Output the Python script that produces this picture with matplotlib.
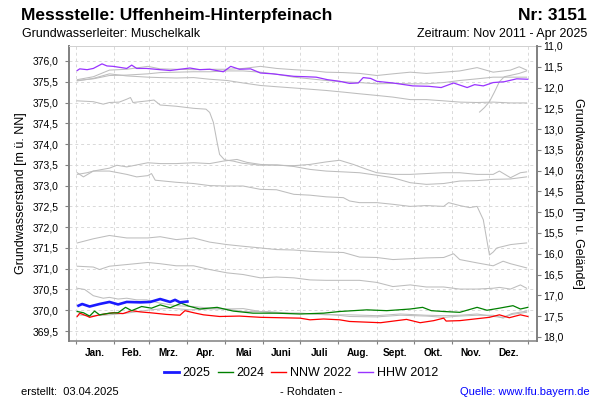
import matplotlib
matplotlib.use('Agg')
import matplotlib.pyplot as plt
from matplotlib.lines import Line2D
import numpy as np

plt.rcParams['font.family'] = ['Liberation Sans', 'DejaVu Sans']

# ---------------- data ----------------
GROUND = 387.36  # Geländehöhe [m ü. NN]
MONTH_STARTS = [0, 31, 59, 90, 120, 151, 181, 212, 243, 273, 304, 334, 365]
MONTHS = ["Jan.", "Feb.", "Mrz.", "Apr.", "Mai", "Juni", "Juli", "Aug.",
          "Sept.", "Okt.", "Nov.", "Dez."]

d2025 = [2, 5, 11, 19, 27, 34, 41, 52, 60, 68, 76, 80, 84, 90]
v2025 = [370.11, 370.15, 370.09, 370.15, 370.20, 370.14, 370.20, 370.19, 370.20,
         370.27, 370.20, 370.25, 370.19, 370.21]

d2024 = [1, 6, 11, 15, 19, 27, 34, 40, 45, 53, 61, 68, 76, 85, 91, 100, 114, 127,
         143, 162, 181, 200, 213, 235, 251, 270, 280, 287, 297, 310, 324, 332, 342,
         353, 359, 365]
v2024 = [369.97, 369.94, 369.86, 369.98, 369.89, 369.93, 369.94, 370.07, 369.99,
         370.09, 370.05, 370.13, 370.06, 370.17, 370.10, 370.03, 370.07, 369.98,
         369.93, 369.93, 369.91, 369.93, 369.97, 370.01, 369.99, 370.03, 370.07,
         369.99, 369.97, 369.95, 370.07, 370.00, 370.05, 370.11, 370.03, 370.07]

d2022 = [1, 3, 9, 11, 19, 30, 38, 45, 52, 60, 73, 84, 88, 95, 103, 116, 132, 149,
         165, 181, 189, 200, 213, 221, 246, 267, 278, 289, 297, 299, 310, 334, 342,
         350, 359, 365]
v2022 = [369.85, 369.93, 369.86, 369.83, 369.89, 369.94, 369.92, 369.99, 369.96,
         369.94, 369.90, 369.88, 369.99, 369.94, 369.89, 369.85, 369.86, 369.83,
         369.82, 369.81, 369.77, 369.79, 369.77, 369.73, 369.70, 369.78, 369.70,
         369.75, 369.81, 369.74, 369.75, 369.83, 369.89, 369.82, 369.89, 369.85]

d2012 = [1, 3, 9, 14, 21, 25, 30, 41, 45, 49, 57, 68, 76, 84, 92, 100, 108, 119,
         125, 132, 141, 149, 159, 176, 186, 194, 203, 213, 221, 228, 232, 238, 243,
         256, 272, 285, 295, 305, 310, 316, 322, 329, 337, 346, 356, 365]
v2012 = [375.77, 375.81, 375.79, 375.82, 375.93, 375.88, 375.87, 375.82, 375.90,
         375.82, 375.82, 375.79, 375.77, 375.80, 375.83, 375.79, 375.80, 375.74,
         375.87, 375.80, 375.81, 375.71, 375.69, 375.63, 375.62, 375.61, 375.55,
         375.51, 375.46, 375.47, 375.60, 375.58, 375.51, 375.47, 375.40, 375.39,
         375.36, 375.47, 375.42, 375.36, 375.43, 375.40, 375.48, 375.50, 375.57,
         375.56]

# other years (grey)
grey_days = [
    [326, 330, 334, 338, 342, 346, 352, 358, 364],
    [1, 14, 27, 41, 58, 68, 81, 95, 108, 122, 135, 149, 162, 176, 189, 202, 216,
     229, 243, 256, 270, 283, 297, 310, 324, 337, 351, 358, 364],
    [1, 14, 27, 41, 58, 68, 81, 95, 108, 122, 135, 149, 162, 176, 189, 202, 216,
     229, 243, 256, 270, 283, 297, 310, 324, 337, 351, 364],
    [1, 14, 27, 41, 58, 68, 81, 95, 108, 122, 135, 149, 162, 176, 189, 202, 216,
     229, 243, 256, 270, 283, 297, 310, 324, 337, 351, 364],
    [1, 14, 22, 27, 35, 41, 44, 46, 58, 63, 68, 81, 95, 105, 108, 111, 114, 116,
     120, 127, 134, 149, 162, 176, 189, 202, 216, 229, 243, 256, 270, 283, 297,
     310, 324, 337, 351, 364],
    [1, 6, 14, 27, 33, 41, 58, 68, 81, 95, 108, 119, 130, 138, 149, 162, 176, 189,
     202, 213, 224, 235, 243, 256, 270, 283, 297, 310, 324, 337, 342, 351, 359, 364],
    [1, 9, 14, 27, 41, 49, 58, 61, 64, 81, 95, 108, 122, 135, 149, 162, 176, 189,
     202, 216, 221, 229, 243, 256, 270, 283, 297, 301, 310, 318, 324, 329, 334,
     337, 340, 351, 357, 364],
    [1, 14, 27, 41, 58, 68, 81, 95, 108, 122, 135, 149, 162, 176, 189, 202, 216,
     229, 243, 256, 270, 283, 297, 305, 310, 324, 337, 345, 351, 364],
    [1, 14, 19, 27, 41, 58, 68, 81, 95, 108, 122, 135, 149, 162, 176, 189, 202,
     216, 229, 243, 256, 270, 283, 297, 310, 324, 337, 342, 351, 359, 364],
    [1, 7, 14, 22, 27, 34, 41, 49, 57, 68, 81, 95, 108, 122, 135, 149, 162, 181,
     202, 221, 243, 262, 283, 297, 310, 324, 337, 345, 352, 364],
    [2, 11, 27, 41, 60, 76, 92, 108, 122, 135, 154, 173, 190, 205, 221, 243, 262,
     283, 297, 310, 324, 337, 345, 352, 364],
]
grey_vals = [
    [374.77, 374.88, 375.02, 375.25, 375.50, 375.62, 375.66, 375.70, 375.76],
    [375.55, 375.62, 375.78, 375.80, 375.87, 375.81, 375.80, 375.79, 375.80,
     375.80, 375.82, 375.87, 375.82, 375.79, 375.77, 375.73, 375.72, 375.70,
     375.65, 375.69, 375.73, 375.70, 375.73, 375.76, 375.84, 375.73, 375.78,
     375.86, 375.78],
    [375.53, 375.57, 375.65, 375.66, 375.69, 375.72, 375.73, 375.74, 375.74,
     375.76, 375.76, 375.73, 375.68, 375.61, 375.57, 375.53, 375.50, 375.48,
     375.45, 375.46, 375.45, 375.45, 375.48, 375.53, 375.57, 375.61, 375.61,
     375.61],
    [375.52, 375.58, 375.69, 375.64, 375.61, 375.60, 375.59, 375.60, 375.56,
     375.53, 375.47, 375.41, 375.38, 375.35, 375.32, 375.29, 375.25, 375.21,
     375.17, 375.13, 375.07, 375.07, 375.04, 375.01, 375.00, 375.01, 374.99,
     374.99],
    [375.04, 375.02, 374.96, 375.00, 375.01, 375.08, 375.12, 375.00, 375.04,
     375.06, 374.94, 374.91, 374.86, 374.84, 374.76, 374.52, 374.04, 373.75,
     373.62, 373.59, 373.54, 373.49, 373.50, 373.46, 373.39, 373.35, 373.33,
     373.31, 373.25, 373.19, 373.07, 373.03, 373.05, 373.11, 373.12, 373.15,
     373.16, 373.21],
    [373.31, 373.21, 373.35, 373.42, 373.49, 373.45, 373.55, 373.53, 373.53,
     373.55, 373.53, 373.59, 373.63, 373.56, 373.51, 373.49, 373.48, 373.51,
     373.57, 373.61, 373.51, 373.39, 373.31, 373.27, 373.27, 373.29, 373.31,
     373.31, 373.27, 373.27, 373.35, 373.19, 373.31, 373.33],
    [373.27, 373.31, 373.35, 373.35, 373.27, 373.21, 373.24, 373.29, 373.13,
     373.08, 373.05, 373.00, 372.99, 372.99, 372.91, 372.90, 372.79, 372.77,
     372.73, 372.71, 372.63, 372.59, 372.59, 372.55, 372.50, 372.52, 372.50,
     372.59, 372.52, 372.47, 372.50, 372.18, 371.33, 371.40, 371.50, 371.58,
     371.60, 371.62],
    [371.62, 371.72, 371.80, 371.74, 371.74, 371.77, 371.70, 371.74, 371.64,
     371.58, 371.54, 371.50, 371.46, 371.45, 371.42, 371.40, 371.39, 371.28,
     371.27, 371.22, 371.24, 371.26, 371.27, 371.36, 371.22, 371.14, 371.07,
     371.18, 371.12, 371.02],
    [371.06, 371.04, 370.98, 371.06, 371.10, 371.15, 371.12, 371.07, 371.07,
     370.98, 370.90, 370.86, 370.78, 370.80, 370.78, 370.73, 370.72, 370.72,
     370.72, 370.67, 370.57, 370.61, 370.56, 370.56, 370.51, 370.51, 370.53,
     370.55, 370.51, 370.61, 370.53],
    [370.53, 370.50, 370.35, 370.29, 370.31, 370.27, 370.29, 370.25, 370.25,
     370.17, 370.11, 370.09, 370.05, 370.03, 370.04, 369.97, 369.93, 369.93,
     369.89, 369.89, 369.87, 369.91, 369.88, 369.87, 369.88, 369.91, 369.85,
     369.83, 369.92, 369.98],
    [369.89, 369.86, 369.89, 369.93, 370.01, 370.05, 370.01, 370.03, 370.03,
     369.97, 369.97, 369.93, 369.92, 369.90, 369.85, 369.84, 369.88, 369.86,
     369.83, 369.86, 369.88, 369.88, 369.81, 369.90, 369.95],
]

LEFT_TICKS = [369.5 + 0.5 * i for i in range(14)]
RIGHT_TICKS = [11.0 + 0.5 * i for i in range(15)]
YLIM = (369.26, 376.36)
XLIM = (-5.9, 372.4)

# ---------------- figure ----------------
W, H = 600, 400
fig = plt.figure(figsize=(6, 4), dpi=100)
ax = fig.add_axes([68.7 / W, 1 - 341 / H, (537 - 68.7) / W, (341 - 46) / H])

for dd, vv in zip(grey_days, grey_vals):
    ax.plot(dd, vv, color='#bdbdbd', lw=0.75, zorder=2)
ax.plot(d2022, v2022, color='#ff0000', lw=0.9, zorder=3)
ax.plot(d2024, v2024, color='#008000', lw=0.9, zorder=3)
ax.plot(d2012, v2012, color='#9933ff', lw=0.9, zorder=3)
ax.plot(d2025, v2025, color='#1a1aff', lw=1.9, zorder=4)

ax.set_xlim(*XLIM)
ax.set_ylim(*YLIM)

fmt = lambda v: f"{v:.1f}".replace('.', ',')
ax.set_yticks(LEFT_TICKS)
ax.set_yticklabels([fmt(v) for v in LEFT_TICKS], fontsize=7.5)
ax.set_xticks(MONTH_STARTS)
ax.set_xticklabels([''] * len(MONTH_STARTS))
mids = [(MONTH_STARTS[i] + MONTH_STARTS[i + 1]) / 2 for i in range(12)]
ax.set_xticks(mids, minor=True)
ax.set_xticklabels(MONTHS, minor=True, fontsize=7.2, fontweight='bold')
ax.tick_params(axis='x', which='minor', length=0, pad=5)
ax.tick_params(axis='x', which='major', length=2.5, color='#808080', width=0.8)
ax.tick_params(axis='y', length=3, pad=4.5, color='#808080', width=0.8)

ax.grid(True, which='major', ls=(0, (3, 3)), color='#d9d9d9', lw=0.7)
ax.set_axisbelow(True)

ax.spines['left'].set_color('#808080')
ax.spines['left'].set_linewidth(1.4)
ax.spines['bottom'].set_color('#808080')
ax.spines['bottom'].set_linewidth(1.1)
ax.spines['top'].set_color('#d0d0d0')
ax.spines['top'].set_linewidth(0.7)
ax.spines['right'].set_visible(False)

ax2 = ax.twinx()
ax2.set_ylim(GROUND - YLIM[0], GROUND - YLIM[1])
ax2.set_yticks(RIGHT_TICKS)
ax2.set_yticklabels([fmt(v) for v in RIGHT_TICKS], fontsize=7.5)
ax2.tick_params(axis='y', length=3, pad=1.5, color='#808080', width=0.8)
for s in ['left', 'top', 'bottom']:
    ax2.spines[s].set_visible(False)
ax2.spines['right'].set_color('#808080')
ax2.spines['right'].set_linewidth(1.4)

yc = 1 - (46 + 341) / 2 / H
fig.text(21.5 / W, yc, 'Grundwasserstand [m ü. NN]', rotation=90,
         ha='center', va='center', fontsize=9)
fig.text(578.5 / W, yc, 'Grundwasserstand [m u. Gelände]', rotation=270,
         ha='center', va='center', fontsize=9)

# titles
fig.text(21 / W, 1 - 20 / H, 'Messstelle: Uffenheim-Hinterpfeinach',
         fontsize=12.5, fontweight='bold', va='baseline')
fig.text(587 / W, 1 - 20 / H, 'Nr: 3151', fontsize=12.5, fontweight='bold',
         ha='right', va='baseline')
fig.text(22 / W, 1 - 37 / H, 'Grundwasserleiter: Muschelkalk', fontsize=9,
         va='baseline')
fig.text(587 / W, 1 - 37 / H, 'Zeitraum: Nov 2011 - Apr 2025', fontsize=9,
         ha='right', va='baseline')

# legend
handles = [Line2D([], [], color='#1a1aff', lw=2.0),
           Line2D([], [], color='#008000', lw=1.0),
           Line2D([], [], color='#ff0000', lw=1.0),
           Line2D([], [], color='#9933ff', lw=1.0)]
fig.legend(handles, ['2025', '2024', 'NNW 2022', 'HHW 2012'], loc='center',
           bbox_to_anchor=(301 / W, 1 - 373 / H), ncol=4, frameon=False,
           fontsize=9, handlelength=1.2, handletextpad=0.3, columnspacing=0.55,
           borderpad=0, borderaxespad=0)

# footer
fig.text(21 / W, 1 - 392 / H, 'erstellt:  03.04.2025', fontsize=8, va='center')
fig.text(311 / W, 1 - 392 / H, '- Rohdaten -', fontsize=8, va='center', ha='center')
fig.text(590 / W, 1 - 392 / H, 'Quelle: www.lfu.bayern.de', fontsize=8,
         va='center', ha='right', color='#0000ff')

fig.savefig('out.png', dpi=100)
